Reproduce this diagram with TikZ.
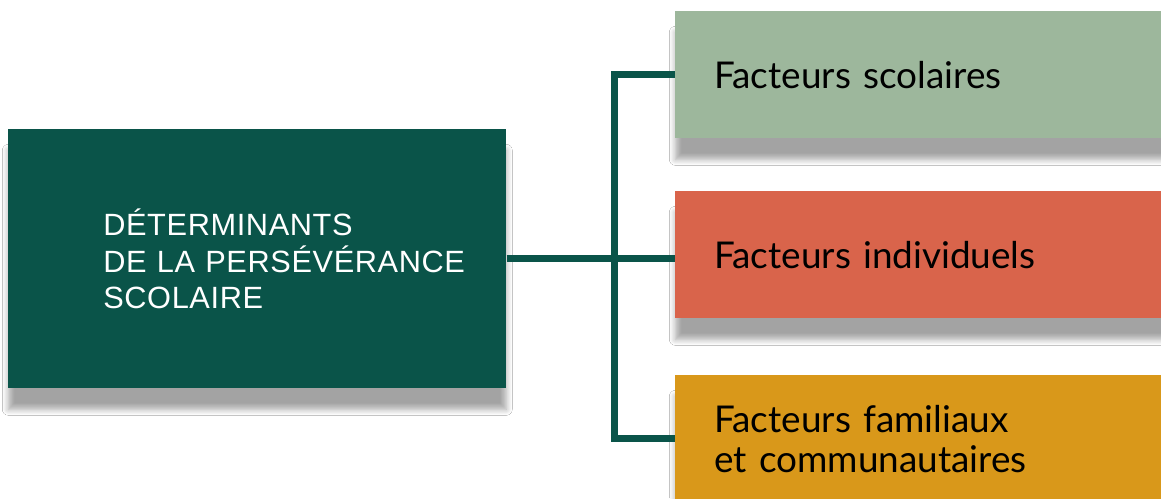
\documentclass[tikz,border=0pt]{standalone}
\usepackage{fontspec}
\setmainfont{Lato}
\newfontfamily\titlefont[LetterSpace=2]{Liberation Sans}
\usetikzlibrary{positioning,shadows.blur}
\definecolor{darkteal}{HTML}{0A5449}
\definecolor{sage}{HTML}{9DB79C}
\definecolor{brick}{HTML}{D9644B}
\definecolor{ochre}{HTML}{D9981A}

\begin{document}
\begin{tikzpicture}[x=0.02cm,y=-0.02cm,
    box/.style={rectangle,anchor=north west,inner ysep=0pt,
        blur shadow={shadow xshift=0pt,shadow yshift=-0.42cm,shadow blur steps=6,
            shadow blur radius=0.12cm,shadow opacity=36,shadow scale=1}},
    maintitle/.style={box,fill=darkteal,text=white,inner xsep=1.9cm,text width=6.16cm,minimum height=5.18cm,
        align=left,font=\titlefont\fontsize{17.5}{20.5}\selectfont},
    factor/.style={box,inner xsep=0.78cm,text width=9cm,minimum height=2.54cm,align=left,
        font=\fontsize{21}{22.5}\selectfont},
    link/.style={draw=darkteal,line width=0.14cm}]
\clip (0,0) rectangle (1161,498);
\fill[white] (0,0) rectangle (1161,498);
\node[maintitle] (det) at (8,129) {DÉTERMINANTS\\\mbox{DE LA PERSÉVÉRANCE}\\SCOLAIRE};
\node[factor,fill=sage] (scol) at (675,11) {Facteurs scolaires};
\node[factor,fill=brick] (indiv) at (675,191) {Facteurs individuels};
\node[factor,fill=ochre] (famil) at (675,375) {Facteurs familiaux\\et communautaires};
\coordinate (fork) at (614,258);
\draw[link] (det.east) -- (indiv.west |- det.east);
\draw[link] (scol.west) -| (fork) |- (famil.west);
\end{tikzpicture}
\end{document}
